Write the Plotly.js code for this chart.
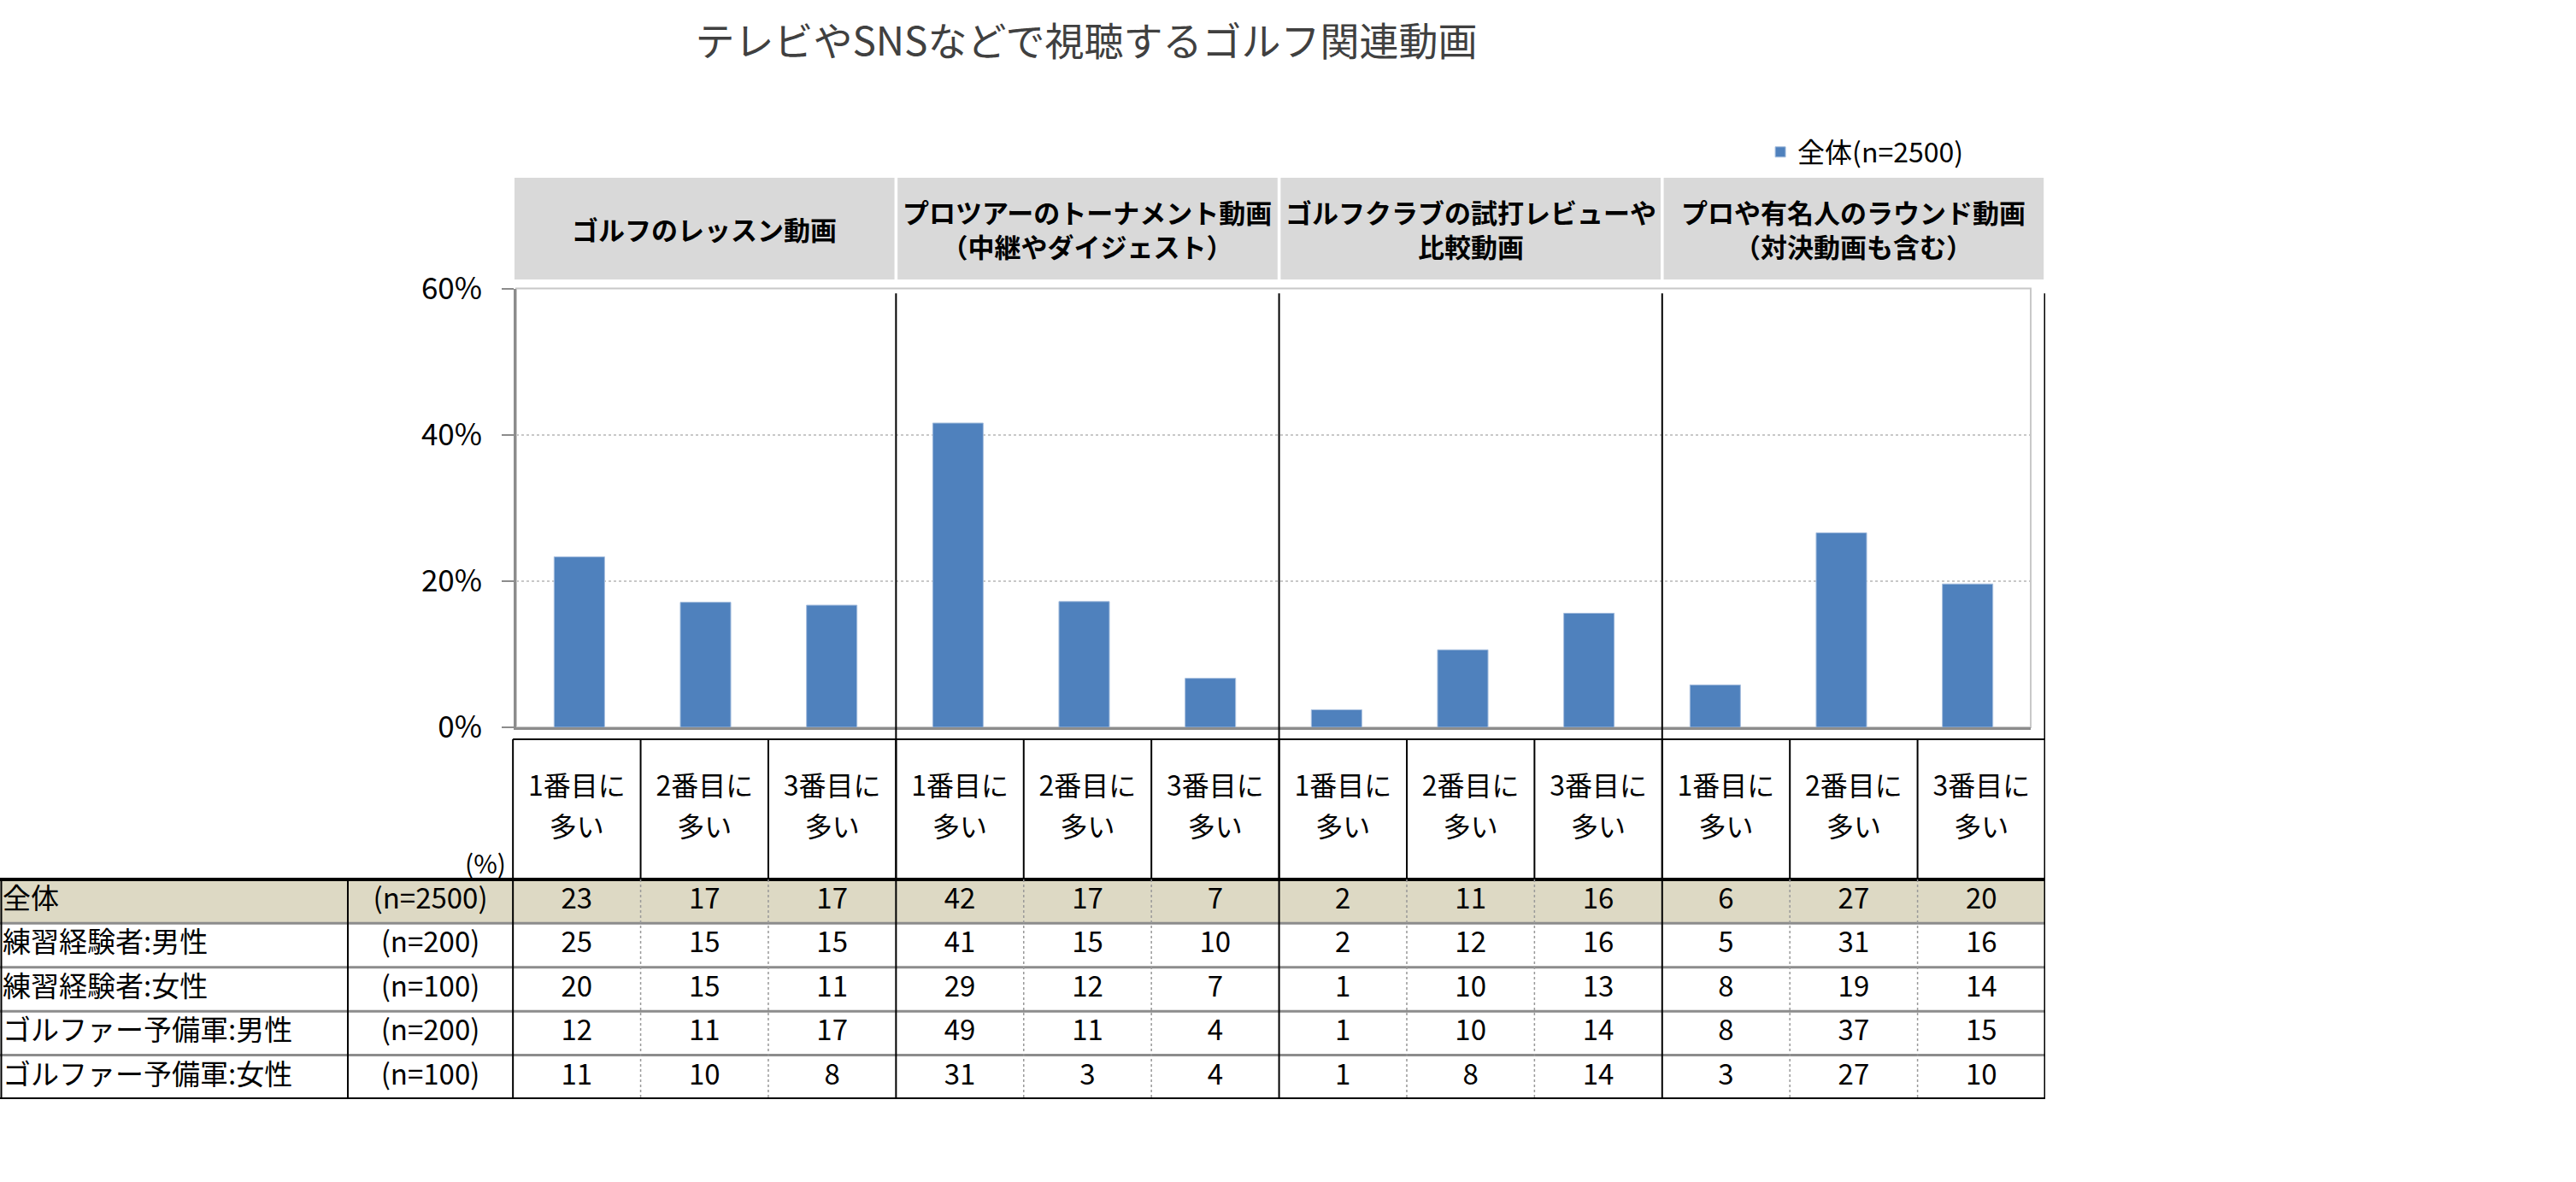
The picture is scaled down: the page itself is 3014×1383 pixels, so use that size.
<!DOCTYPE html>
<html>
<head>
<meta charset="utf-8">
<script src="https://cdn.plot.ly/plotly-3.0.1.min.js"></script>
<style>html,body{margin:0;padding:0;background:#fff;}#chart{width:3014px;height:1383px;}</style>
</head>
<body>
<div id="chart"></div>
<script>
// ---------------- data ----------------
const chartTitle = 'テレビやSNSなどで視聴するゴルフ関連動画';
const seriesName = '全体(n=2500)';
const groupLabels = [
  'ゴルフのレッスン動画',
  'プロツアーのトーナメント動画<br>（中継やダイジェスト）',
  'ゴルフクラブの試打レビューや<br>比較動画',
  'プロや有名人のラウンド動画<br>（対決動画も含む）'
];
const rankLine1 = ['1番目に', '2番目に', '3番目に'];
const rankLine2 = ['多い', '多い', '多い'];
// bar heights (%)
const barValues = [23.3, 17.1, 16.7, 41.6, 17.2, 6.7, 2.4, 10.6, 15.6, 5.8, 26.6, 19.6];
const yTicks = [0, 20, 40, 60];
const yTickLabels = ['0%', '20%', '40%', '60%'];
// table
const rowLabels = ['全体', '練習経験者:男性', '練習経験者:女性', 'ゴルファー予備軍:男性', 'ゴルファー予備軍:女性'];
const rowN = ['(n=2500)', '(n=200)', '(n=100)', '(n=200)', '(n=100)'];
const rowAll          = [23, 17, 17, 42, 17, 7, 2, 11, 16, 6, 27, 20];
const rowPracMale     = [25, 15, 15, 41, 15, 10, 2, 12, 16, 5, 31, 16];
const rowPracFemale   = [20, 15, 11, 29, 12, 7, 1, 10, 13, 8, 19, 14];
const rowPreMale      = [12, 11, 17, 49, 11, 4, 1, 10, 14, 8, 37, 15];
const rowPreFemale    = [11, 10, 8, 31, 3, 4, 1, 8, 14, 3, 27, 10];
const tableRows = [rowAll, rowPracMale, rowPracFemale, rowPreMale, rowPreFemale];
const unitLabel = '(%)';

// ---------------- layout helpers ----------------
const FONT = '"Noto Sans CJK JP", "Noto Sans", sans-serif';
const nCols = barValues.length;
const colIdx = barValues.map((_, i) => i);
const X2_LEFT = -4.517, X2_NSPLIT = -1.793, X2_DATA0 = -0.5, X2_RIGHT = nCols - 0.5;
const Y2_TOP = -3.46, Y2_HEAD = -3.19, Y2_BOTTOM = tableRows.length;

const traces = [];
traces.push({
  type: 'bar', x: colIdx, y: barValues, name: seriesName, width: 0.4,
  marker: {color: '#4F81BD', line: {color: '#A7BFDE', width: 1}},
  xaxis: 'x', yaxis: 'y', showlegend: true, hoverinfo: 'y'
});
// table header text
const rankTop = [], rankBot = [];
colIdx.forEach(i => { rankTop.push(rankLine1[i % 3]); rankBot.push(rankLine2[i % 3]); });
traces.push({type: 'scatter', mode: 'text', x: colIdx, y: colIdx.map(() => -2.06), text: rankTop,
  textfont: {family: FONT, size: 32, color: '#000'}, xaxis: 'x2', yaxis: 'y2', showlegend: false, hoverinfo: 'skip', cliponaxis: false});
traces.push({type: 'scatter', mode: 'text', x: colIdx, y: colIdx.map(() => -1.13), text: rankBot,
  textfont: {family: FONT, size: 32, color: '#000'}, xaxis: 'x2', yaxis: 'y2', showlegend: false, hoverinfo: 'skip', cliponaxis: false});
// table body
tableRows.forEach((row, r) => {
  traces.push({type: 'scatter', mode: 'text', x: colIdx, y: row.map(() => r + 0.5), text: row.map(String),
    textfont: {family: FONT, size: 33, color: '#000'}, xaxis: 'x2', yaxis: 'y2', showlegend: false, hoverinfo: 'skip', cliponaxis: false});
});
traces.push({type: 'scatter', mode: 'text', x: rowLabels.map(() => X2_LEFT + 0.02), y: rowLabels.map((_, r) => r + 0.5),
  text: rowLabels, textposition: 'middle right',
  textfont: {family: FONT, size: 33, color: '#000'}, xaxis: 'x2', yaxis: 'y2', showlegend: false, hoverinfo: 'skip', cliponaxis: false});
traces.push({type: 'scatter', mode: 'text', x: rowN.map(() => (X2_NSPLIT + X2_DATA0) / 2), y: rowN.map((_, r) => r + 0.5),
  text: rowN, textfont: {family: FONT, size: 33, color: '#000'}, xaxis: 'x2', yaxis: 'y2', showlegend: false, hoverinfo: 'skip', cliponaxis: false});

// ---------------- shapes ----------------
const shapes = [];
// plot frame
shapes.push({type: 'rect', xref: 'x domain', yref: 'y domain', x0: 0, x1: 1, y0: 0, y1: 1,
  line: {color: '#C8C8C8', width: 2}, fillcolor: 'rgba(0,0,0,0)', layer: 'below'});
// group header boxes
groupLabels.forEach((g, k) => {
  shapes.push({type: 'rect', xref: 'x2', yref: 'y domain', x0: 3 * k - 0.5 + 0.012, x1: 3 * k + 2.5 - 0.012,
    y0: 1.0205, y1: 1.252, fillcolor: '#D9D9D9', line: {width: 0}, layer: 'below'});
});
// total row background
shapes.push({type: 'rect', xref: 'x2', yref: 'y2', x0: X2_LEFT, x1: X2_RIGHT, y0: 0, y1: 1,
  fillcolor: '#DDD9C4', line: {width: 0}, layer: 'below'});
// header row lines
shapes.push({type: 'line', xref: 'x2', yref: 'y2', x0: X2_DATA0, x1: X2_RIGHT, y0: Y2_HEAD, y1: Y2_HEAD, line: {color: '#000', width: 2}});
for (let i = 0; i <= nCols; i++) {
  shapes.push({type: 'line', xref: 'x2', yref: 'y2', x0: i - 0.5, x1: i - 0.5, y0: Y2_HEAD, y1: 0, line: {color: '#000', width: 2}});
}
// body horizontal lines
for (let r = 1; r < tableRows.length; r++) {
  shapes.push({type: 'line', xref: 'x2', yref: 'y2', x0: X2_LEFT, x1: X2_RIGHT, y0: r, y1: r, line: {color: '#8C8C8C', width: 3}});
}
shapes.push({type: 'line', xref: 'x2', yref: 'y2', x0: X2_LEFT, x1: X2_RIGHT, y0: 0, y1: 0, line: {color: '#000', width: 4}});
shapes.push({type: 'line', xref: 'x2', yref: 'y2', x0: X2_LEFT, x1: X2_RIGHT, y0: Y2_BOTTOM, y1: Y2_BOTTOM, line: {color: '#000', width: 4}});
// body vertical lines
[X2_LEFT + 0.01, X2_NSPLIT, X2_DATA0].forEach(x => {
  shapes.push({type: 'line', xref: 'x2', yref: 'y2', x0: x, x1: x, y0: 0, y1: Y2_BOTTOM, line: {color: '#000', width: 2}});
});
for (let i = 1; i < nCols; i++) {
  if (i % 3 !== 0) {
    shapes.push({type: 'line', xref: 'x2', yref: 'y2', x0: i - 0.5, x1: i - 0.5, y0: 0, y1: Y2_BOTTOM, line: {color: '#999', width: 1.5, dash: 'dot'}});
  }
}
// group separators through chart and table
for (let k = 1; k <= groupLabels.length; k++) {
  const x = 3 * k - 0.5;
  const w = k === groupLabels.length ? 3 : 2;
  shapes.push({type: 'line', xref: 'x2', yref: 'y domain', x0: x, x1: x, y0: 0, y1: 0.989, line: {color: '#000', width: w}});
  shapes.push({type: 'line', xref: 'x2', yref: 'y2', x0: x, x1: x, y0: Y2_TOP, y1: Y2_BOTTOM, line: {color: '#000', width: w}});
}

// ---------------- annotations ----------------
const annotations = groupLabels.map((g, k) => ({
  xref: 'x2', yref: 'y domain', x: 3 * k + 1, y: 1.136, text: '<b>' + g + '</b>', showarrow: false,
  xanchor: 'center', yanchor: 'middle', align: 'center',
  font: {family: FONT, size: 31, color: '#000'}
}));
annotations.push({xref: 'x2', yref: 'y2', x: X2_DATA0, y: -0.39, xanchor: 'right', yanchor: 'middle', xshift: -6,
  text: unitLabel, showarrow: false, font: {family: FONT, size: 30, color: '#000'}});

const layout = {
  width: 3014, height: 1383,
  margin: {l: 0, r: 0, t: 0, b: 0, pad: 0},
  paper_bgcolor: '#fff', plot_bgcolor: 'rgba(0,0,0,0)',
  title: {text: chartTitle, x: 0.4217, xanchor: 'center', y: 0.965, yanchor: 'middle', xref: 'paper', yref: 'paper',
    font: {family: FONT, size: 46, color: '#404040'}},
  showlegend: true,
  legend: {x: 0.6845, xanchor: 'left', y: 0.8713, yanchor: 'middle', bgcolor: 'rgba(0,0,0,0)',
    font: {family: FONT, size: 32, color: '#000'}},
  xaxis: {domain: [0.2004, 0.78832], range: [-0.5, nCols - 0.5], showticklabels: false, ticks: '',
    showgrid: false, zeroline: false, showline: true, linecolor: '#8C8C8C', linewidth: 3, anchor: 'y', fixedrange: true},
  yaxis: {domain: [0.38467, 0.75596], range: [0, 60], tickmode: 'array', tickvals: yTicks, ticktext: yTickLabels,
    ticks: 'outside', ticklen: 14,
    tickwidth: 2, tickcolor: '#8C8C8C', ticklabelstandoff: 16, showline: true, linecolor: '#8C8C8C', linewidth: 3,
    showgrid: true, gridcolor: '#C8C8C8', gridwidth: 2, griddash: 'dot', zeroline: false, anchor: 'x',
    tickfont: {family: FONT, size: 35, color: '#000'}, fixedrange: true},
  xaxis2: {domain: [0, 0.79396], range: [X2_LEFT, X2_RIGHT], visible: false, anchor: 'y2', fixedrange: true},
  yaxis2: {domain: [0.07014, 0.38467], range: [Y2_BOTTOM, Y2_TOP], visible: false, anchor: 'x2', fixedrange: true},
  shapes: shapes,
  annotations: annotations
};

Plotly.newPlot('chart', traces, layout, {displayModeBar: false, staticPlot: true});
</script>
</body>
</html>
